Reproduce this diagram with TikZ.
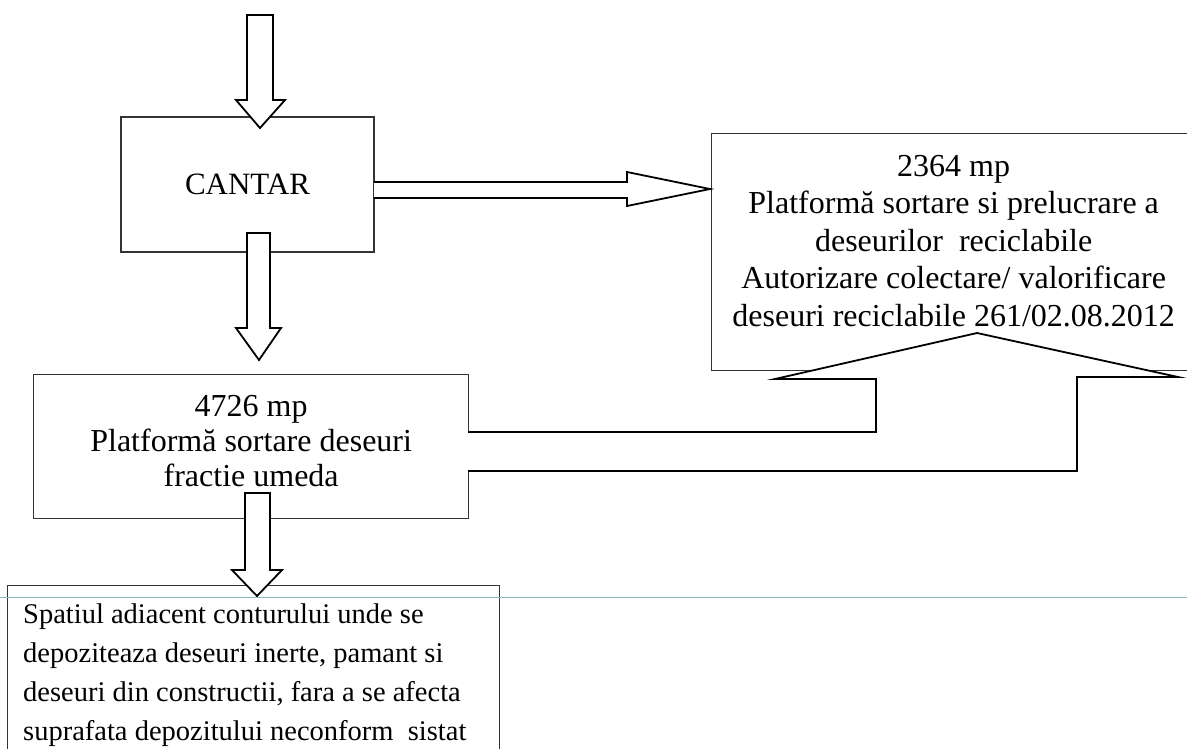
\documentclass[tikz,border=0pt]{standalone}
\usepackage{fontspec}
\setmainfont{Liberation Serif}
\usetikzlibrary{calc}

\definecolor{scanline}{RGB}{140,190,200}
\tikzset{
  box/.style={draw=black!80,line width=1.3pt,rectangle,inner sep=0pt},
  txt/.style={inner sep=0pt,align=center},
  blk/.style={draw=black,fill=white,line width=1.8pt,line join=miter}
}

\begin{document}
\begin{tikzpicture}[x=1pt,y=-1pt]
\useasboundingbox (0,0) rectangle (1187,748);
% boxes
\node[box,minimum width=253,minimum height=135,font={\fontsize{31}{36}\selectfont}] (cantar) at (247.5,184.5) {CANTAR};
\node[box,minimum width=435,minimum height=144,anchor=north west] (umed) at (33,374) {};
\node[txt,anchor=north,font={\fontsize{32}{35}\selectfont}] (umedtxt) at ([yshift=-21]umed.north) {4726 mp\\Platformă sortare deseuri\\fractie umeda};
\node[box,minimum width=484,minimum height=237,anchor=north west] (recicl) at (711,133) {};
\node[txt,anchor=north,font={\fontsize{32}{37.5}\selectfont}] (recicltxt) at ([yshift=-22]recicl.north) {2364 mp\\Platformă sortare si prelucrare a\\deseurilor~ reciclabile\\Autorizare colectare/ valorificare\\deseuri reciclabile 261/02.08.2012};
\node[box,minimum width=492,minimum height=180,anchor=north west] (inerte) at (7,585) {};
\node[txt,align=left,anchor=north west,font={\fontsize{28.5}{39}\selectfont}] (inertetxt) at ([xshift=16,yshift=-18.5]inerte.north west) {Spatiul adiacent conturului unde se\\depoziteaza deseuri inerte, pamant si\\deseuri din constructii, fara a se afecta\\suprafata depozitului neconform~ sistat};
% block arrows
\draw[blk] (247,15) -- (273,15) -- (273,100) -- (285,100) -- (260,128) -- (236,100) -- (247,100) -- cycle;
\draw[blk] (247,233) -- (270,233) -- (270,328) -- (281,328) -- (259,360) -- (236,328) -- (247,328) -- cycle;
\draw[blk] (245,493) -- (270,493) -- (270,570) -- (282,570) -- (257,596) -- (232,570) -- (245,570) -- cycle;
\draw[blk] (374,182) -- (627,182) -- (627,172) -- (710,189) -- (627,206) -- (627,198) -- (374,198);
\draw[blk] (468,432) -- (876,432) -- (876,379) -- (775,379) -- (977,333) -- (1178,377) -- (1077,377) -- (1077,471) -- (468,471);
% scan line
\draw[scanline,line width=1pt] (0,597) -- (1187,597);
\end{tikzpicture}
\end{document}
